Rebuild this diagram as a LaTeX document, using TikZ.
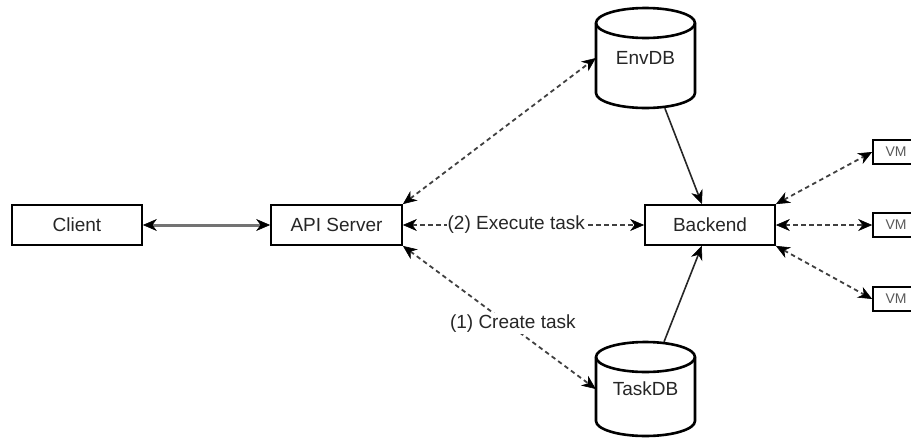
\documentclass[tikz,border=0pt]{standalone}
\usepackage{fontspec}
\setmainfont{Liberation Sans}
\usetikzlibrary{arrows.meta}

% database cylinder: centre x, top y, bottom y (pixel units, y downwards)
\newcommand\dbcylinder[3]{%
  \draw[dbline, fill=white]
    ({#1-49.5},{#2+15}) -- ({#1-49.5},{#3-15})
    arc[start angle=180, end angle=360, x radius=49.5pt, y radius=15pt]
    -- ({#1+49.5},{#2+15})
    arc[start angle=0, end angle=180, x radius=49.5pt, y radius=15pt]
    -- cycle;
  \draw[dbline] ({#1-49.5},{#2+15})
    arc[start angle=180, end angle=360, x radius=49.5pt, y radius=15pt];
}

\begin{document}
\begin{tikzpicture}[x=1pt, y=-1pt,
  labelfont/.style={font=\fontsize{19}{22}\selectfont, text=black!85},
  box/.style={draw=black, line width=1.8pt, fill=white, minimum height=40pt,
              inner sep=0pt, labelfont},
  vmbox/.style={draw=black, line width=1.7pt, fill=white, minimum width=46pt,
                minimum height=24pt, inner sep=0pt,
                font=\fontsize{14}{16}\selectfont, text=black!65},
  dbline/.style={draw=black, line width=2.6pt},
  dbnode/.style={minimum width=99pt, inner sep=0pt, labelfont},
  headtip/.tip={Stealth[length=14pt, width=12pt, inset=4.5pt, line width=0.6pt, black]},
  dashlink/.style={draw=black!75, line width=1.8pt, dash pattern=on 4.5pt off 3.5pt,
                   headtip-headtip},
  solidlink/.style={draw=black!85, line width=1.6pt, -headtip},
  mainlink/.style={draw=black!55, line width=3pt, headtip-headtip},
  edgelabel/.style={fill=white, inner xsep=1pt, inner ysep=2pt, labelfont}
]
\useasboundingbox (0,0) rectangle (911,437);
\clip (0,0) rectangle (911,437);

% boxes
\node[box, minimum width=130pt] (client)  at (77,225)    {Client};
\node[box, minimum width=131pt] (api)     at (336.5,225) {API Server};
\node[box, minimum width=130pt] (backend) at (710,225)   {Backend};

\node[vmbox] (vm1) at (896,152) {VM};
\node[vmbox] (vm2) at (896,225) {VM};
\node[vmbox] (vm3) at (896,299) {VM};

% databases
\dbcylinder{645.5}{8}{108}
\node[dbnode, minimum height=100pt] (envdb) at (645.5,58) {EnvDB};
\dbcylinder{645.5}{342}{436}
\node[dbnode, minimum height=94pt] (taskdb) at (645.5,389) {TaskDB};

% connectors
\draw[mainlink] (client.east) -- (api.west);
\draw[dashlink] (api.north east) -- (envdb.west);
\draw[dashlink] (api.east) -- node[edgelabel, pos=0.47] {(2) Execute task} (backend.west);
\draw[dashlink] (api.south east) -- node[edgelabel, pos=0.57, yshift=4pt] {(1) Create task} (taskdb.west);
\draw[solidlink] (envdb) -- (backend);
\draw[solidlink] (taskdb) -- (backend);
\draw[dashlink] (backend.north east) -- (vm1.west);
\draw[dashlink] (backend.east) -- (vm2.west);
\draw[dashlink] (backend.south east) -- (vm3.west);
\end{tikzpicture}
\end{document}
